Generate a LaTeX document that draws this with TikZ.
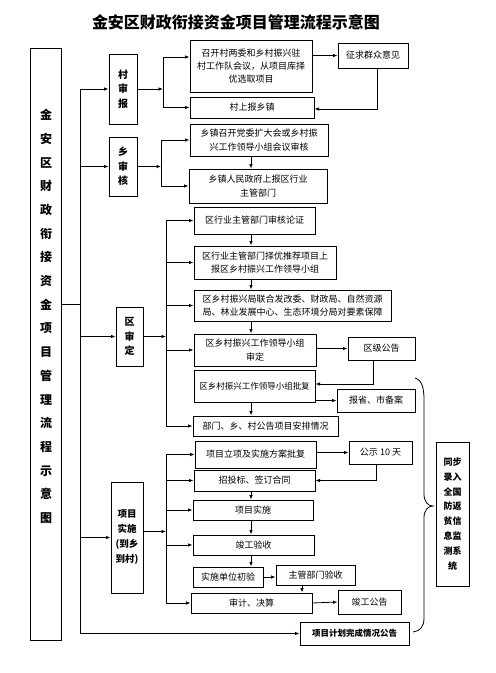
\documentclass[tikz,border=0pt]{standalone}
\usepackage{fontspec}
\setmainfont{Noto Sans CJK SC}
\usetikzlibrary{arrows.meta}
\tikzset{
  box/.style={draw, line width=1pt, inner sep=0pt, align=center, font=\fontsize{9}{13.3}\selectfont},
  sz/.style 2 args={minimum width=#1, minimum height=#2},
  vbox/.style={box, font=\fontsize{10}{14.5}\selectfont\bfseries},
  arr/.style={-{Latex[length=4.5pt,width=3.6pt]}, line width=0.8pt},
  ln/.style={line width=0.8pt},
}
\begin{document}
\begin{tikzpicture}[x=1pt,y=-1pt]
\useasboundingbox (0,0) rectangle (496,673);
\fill[white] (0,0) rectangle (496,673);

% title
\node[font=\fontsize{16}{18}\selectfont\bfseries] (title) at (236,22) {金安区财政衔接资金项目管理流程示意图};

% left tall box
\node[draw, line width=1pt, sz={31pt}{592pt}] (lb) at (45.5,344) {};
\node[font=\fontsize{12}{23.7}\selectfont\bfseries, align=center, inner sep=0pt] (lt) at (46,316.5)
  {金\\安\\区\\财\\政\\衔\\接\\资\\金\\项\\目\\管\\理\\流\\程\\示\\意\\图};

% stage boxes
\node[vbox, sz={28pt}{70pt}] (cun) at (123,89) {村\\审\\报};
\node[vbox, sz={28pt}{59pt}] (xiang) at (123,166.5) {乡\\审\\核};
\node[vbox, sz={27pt}{59pt}] (qu) at (129.5,336.5) {区\\审\\定};
\node[vbox, sz={32pt}{111pt}, font=\fontsize{9.5}{15}\selectfont\bfseries] (xm) at (127,537.5) {项目\\实施\\(到乡\\到村)};

% village
\node[box, sz={122pt}{52pt}] (b1) at (251,66) {召开村两委和乡村振兴驻\\村工作队会议，从项目库择\\优选取项目};
\node[box, sz={70pt}{25pt}] (zq) at (373,55.5) {征求群众意见};
\node[box, sz={124pt}{21pt}] (csb) at (252,107.5) {村上报乡镇};

% township
\node[box, sz={138pt}{32pt}] (b2) at (259,140) {乡镇召开党委扩大会或乡村振\\兴工作领导小组会议审核};
\node[box, sz={138pt}{34pt}] (b3) at (258,186) {乡镇人民政府上报区行业\\主管部门};

% district
\node[box, sz={121pt}{27pt}] (b4) at (254.5,220.5) {区行业主管部门审核论证};
\node[box, sz={142pt}{33pt}] (b5) at (265,262.5) {区行业主管部门择优推荐项目上\\报区乡村振兴工作领导小组};
\node[box, sz={197pt}{31pt}] (b6) at (292.5,305.5) {区乡村振兴局联合发改委、财政局、自然资源\\局、林业发展中心、生态环境分局对要素保障};
\node[box, sz={122pt}{32pt}] (b7) at (255,350) {区乡村振兴工作领导小组\\审定};
\node[box, sz={67pt}{23pt}] (qjgg) at (381.5,348.5) {区级公告};
\node[box, sz={121pt}{32pt}, font=\fontsize{8.5}{12}\selectfont] (b8) at (254.5,386) {区乡村振兴工作领导小组批复};
\node[box, sz={78pt}{23pt}] (bs) at (376,400.5) {报省、市备案};
\node[box, sz={145pt}{20pt}] (b9) at (265.5,426) {部门、乡、村公告项目安排情况};

% implementation
\node[box, sz={121pt}{27pt}] (b10) at (255.5,454.5) {项目立项及实施方案批复};
\node[box, sz={63pt}{23pt}] (gs) at (380.5,452.5) {公示 10 天};
\node[box, sz={121pt}{21pt}] (b11) at (254.5,480.5) {招投标、签订合同};
\node[box, sz={120pt}{20pt}] (b12) at (253,510) {项目实施};
\node[box, sz={121pt}{20pt}] (b13) at (253.5,545) {竣工验收};
\node[box, sz={70pt}{20pt}] (b14) at (228,577) {实施单位初验};
\node[box, sz={79pt}{20pt}] (zgys) at (315.5,575) {主管部门验收};
\node[box, sz={121pt}{20pt}] (b15) at (251.5,603) {审计、决算};
\node[box, sz={63pt}{24pt}] (jggg) at (369.5,602) {竣工公告};

\node[box, sz={109pt}{23pt}, font=\fontsize{8.5}{12}\selectfont\bfseries] (final) at (354.5,633.5) {项目计划完成情况公告};
\node[box, sz={33pt}{144pt}, font=\fontsize{9}{14.9}\selectfont\bfseries] (tb) at (452.5,514) {同步\\录入\\全国\\防返\\贫信\\息监\\测系\\统};

% helper coordinates
\coordinate (mx) at (80,0);
\coordinate (bx1) at (163,0);
\coordinate (bx2) at (161,0);
\coordinate (bx3) at (166,0);
\coordinate (vx) at (251,0);
\coordinate (zv) at (302,0);
\coordinate (lbj) at ([yshift=40pt]lb.east);
\coordinate (b1in) at ([yshift=9pt]b1.west);
\coordinate (zd) at ([xshift=4pt]zq.south);
\coordinate (csbin) at ([yshift=-1.5pt]csb.east);
\coordinate (qd) at ([xshift=-8.5pt]qjgg.south);
\coordinate (b8in) at ([yshift=2pt]b8.east);
\coordinate (gd) at ([xshift=-4.5pt]gs.south);
\coordinate (xmout) at ([yshift=6pt]xm.east);

% main spine
\draw[ln] (lbj) -- (mx |- lbj);
\draw[arr] (mx |- cun.west) -- (mx |- final.west) -- (final.west);
\draw[arr] (mx |- cun.west) -- (cun.west);
\draw[arr] (mx |- xiang.west) -- (xiang.west);
\draw[arr] (mx |- qu.west) -- (qu.west);
\draw[arr] (mx |- xm.west) -- (xm.west);

% village connectors
\draw[arr] (cun.east) -- (bx1 |- cun.east);
\draw[arr] (bx1 |- csb.west) -- (bx1 |- b1in) -- (b1in);
\draw[arr] (bx1 |- csb.west) -- (csb.west);
\draw[arr] (b1.east |- zq.west) -- (zq.west);
\draw[arr] (zd) |- (csbin);

% township connectors
\draw[arr] (xiang.east) -- (bx2 |- xiang.east);
\draw[arr] (bx2 |- b3.west) -- (bx2 |- b2.west) -- (b2.west);
\draw[arr] (bx2 |- b3.west) -- (b3.west);
\draw[arr] (vx |- b2.south) -- (vx |- b3.north);

% district connectors
\draw[arr] (qu.east) -- (bx3 |- qu.east);
\draw[arr] (bx3 |- b4.west) -- (bx3 |- b9.west) -- (b9.west);
\draw[arr] (bx3 |- b4.west) -- (b4.west);
\draw[arr] (bx3 |- b5.west) -- (b5.west);
\draw[arr] (bx3 |- b6.west) -- (b6.west);
\draw[arr] (bx3 |- b7.west) -- (b7.west);
\draw[arr] (vx |- b4.south) -- (vx |- b5.north);
\draw[arr] (vx |- b5.south) -- (vx |- b6.north);
\draw[arr] (vx |- b6.south) -- (vx |- b7.north);
\draw[arr] (b7.east |- qjgg.west) -- (qjgg.west);
\draw[arr] (qd) |- (b8in);
\draw[arr] (b8.east |- bs.west) -- (bs.west);
\draw[arr] (vx |- b8.south) -- (vx |- b9.north);

% implementation connectors
\draw[arr] (xmout) -- (bx3 |- xmout);
\draw[arr] (bx3 |- b10.west) -- (bx3 |- b15.west) -- (b15.west);
\draw[arr] (bx3 |- b10.west) -- (b10.west);
\draw[arr] (bx3 |- b11.west) -- (b11.west);
\draw[arr] (bx3 |- b12.west) -- (b12.west);
\draw[arr] (bx3 |- b13.west) -- (b13.west);
\draw[arr] (b10.east |- gs.west) -- (gs.west);
\draw[arr] (gd) |- (b11.east);
\draw[arr] (vx |- b11.south) -- (vx |- b12.north);
\draw[arr] (vx |- b12.south) -- (vx |- b13.north);
\draw[arr] (vx |- b13.south) -- (vx |- b14.north);
\draw[arr] (b14.east) -- (zgys.west |- b14.east);
\draw[arr] (zv |- zgys.south) -- (zv |- b15.north);
\draw[arr] (b15.east) -- (jggg.west);

% brace
\draw[line width=0.8pt] (415,378) .. controls (422,380) and (424,388) .. (424,400)
  -- (424,494) .. controls (424,502) and (428,506) .. (433,506)
  .. controls (428,506) and (424,510) .. (424,518)
  -- (424,618) .. controls (424,627) and (420,631) .. (413,632);
\end{tikzpicture}
\end{document}
